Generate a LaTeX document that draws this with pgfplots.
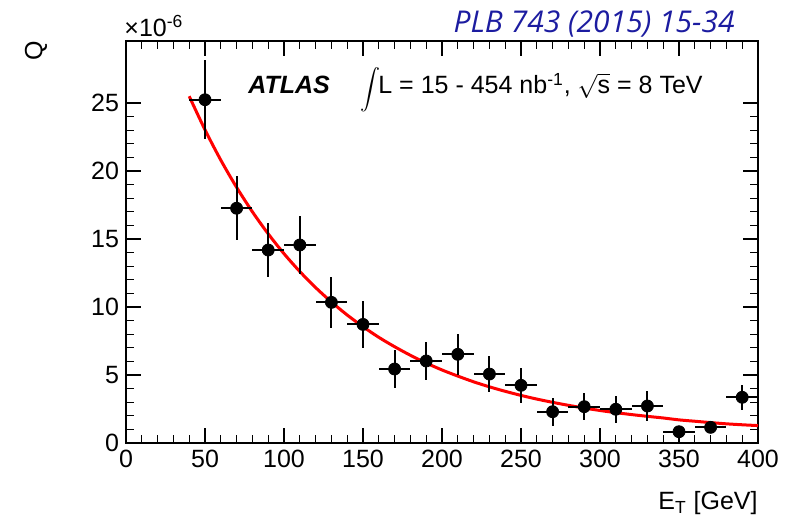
\documentclass[border=0pt]{standalone}
\usepackage{pgfplots}
\pgfplotsset{compat=1.18}
\usepackage{pgfplotstable}
\usepackage{fontspec}
\setmainfont{Liberation Sans}
\newfontfamily\plbfont{Open Sans}
\definecolor{plbblue}{RGB}{28,28,160}

% measured points, x half-width 10 GeV, symmetric y errors
\pgfplotstableread{
x   y     ex  ey
50  25.24 10  2.90
70  17.26 10  2.35
90  14.19 10  2.02
110 14.56 10  2.15
130 10.34 10  1.85
150 8.72  10  1.70
170 5.44  10  1.38
190 6.03  10  1.42
210 6.52  10  1.50
230 5.07  10  1.35
250 4.24  10  1.28
270 2.30  10  1.03
290 2.67  10  0.98
310 2.48  10  1.00
330 2.72  10  1.10
350 0.83  10  0.45
370 1.15  10  0.43
390 3.36  10  0.92
}\datatable

% fit curve
\pgfplotstableread{
x   f
40  25.50
50  23.03
60  20.80
70  18.80
80  17.00
90  15.38
100 13.92
110 12.61
120 11.43
130 10.37
140 9.41
150 8.55
160 7.77
170 7.08
180 6.45
190 5.88
200 5.37
210 4.92
220 4.50
230 4.13
240 3.80
250 3.50
260 3.23
270 2.99
280 2.77
290 2.57
300 2.39
310 2.23
320 2.09
330 1.96
340 1.84
350 1.70
360 1.60
370 1.50
380 1.41
390 1.34
400 1.28
}\fittable

\begin{document}
\begin{tikzpicture}[x=1pt,y=1pt]
\useasboundingbox (-63,-37) rectangle (332,221.5);
\begin{axis}[
  at={(0,0)},
  scale only axis,
  width=316pt, height=201pt,
  xmin=0, xmax=400, ymin=0, ymax=29.56,
  xtick={0,50,...,400}, minor x tick num=4,
  ytick={0,5,...,25}, minor y tick num=4,
  tick align=inside,
  major tick length=7.5pt, minor tick length=4pt,
  axis line style={line width=0.6pt},
  every tick/.style={black, line width=0.6pt},
  tick label style={font=\fontsize{12.5}{14}\selectfont},
  /pgf/number format/assume math mode=true,
  clip=false,
]
\addplot[red, line width=1.5pt, smooth] table[x=x, y=f] {\fittable};
\addplot[black, only marks, mark=*, mark size=3pt,
  error bars/.cd, x dir=both, x explicit, y dir=both, y explicit,
  error mark=none, error bar style={line width=1pt}]
  table[x=x, y=y, x error=ex, y error=ey] {\datatable};
\end{axis}
\begin{scope}[every node/.style={font=\fontsize{12.5}{15}\selectfont, inner sep=0}]
\node[rotate=90] at (-45,196) {Q};
\node[anchor=south west] at (-1,203) {×10\textsuperscript{-6}};
\node[anchor=base east, font=\plbfont\itshape\fontsize{15}{18}\selectfont, text=plbblue] at (304.5,205) {PLB 743 (2015) 15-34};
\node[anchor=base west, font=\bfseries\itshape\fontsize{12.5}{15}\selectfont] at (61,174.5) {ATLAS};
\node at (122,176.5) {$\displaystyle\int$};
\node[anchor=base west] at (126,174.5) {L = 15 - 454 nb\textsuperscript{-1}, $\sqrt{\mbox{s}}$ = 8 TeV};
\node[anchor=base east] at (316,-33.5) {E\textsubscript{T} [GeV]};
\end{scope}
\end{tikzpicture}
\end{document}
